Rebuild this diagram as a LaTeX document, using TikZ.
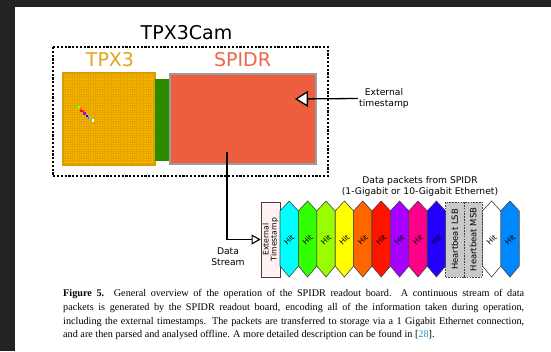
\documentclass[tikz,border=0pt]{standalone}
\usepackage{fontspec}
\setmainfont{Liberation Serif}
\setsansfont{DejaVu Sans}
\usetikzlibrary{arrows.meta}

\definecolor{pagedark}{HTML}{232323}
\definecolor{chiporange}{HTML}{F7B600}
\definecolor{chipedge}{HTML}{DB9A00}
\definecolor{chipgrid}{HTML}{E6A400}
\definecolor{tpxtext}{HTML}{E2A41C}
\definecolor{linkgreen}{HTML}{2A8A00}
\definecolor{spidrred}{HTML}{EC5E3E}
\definecolor{spidrtext}{HTML}{EE6848}
\definecolor{framegray}{HTML}{9C9C9C}
\definecolor{stampbg}{HTML}{FFF1F1}
\definecolor{beatgray}{HTML}{C9C9C9}
\definecolor{citeblue}{HTML}{2A8FC8}
\definecolor{hitcyan}{HTML}{00FFFF}
\definecolor{hitgreen}{HTML}{33FF00}
\definecolor{hitlime}{HTML}{99FF00}
\definecolor{hityellow}{HTML}{FFFF00}
\definecolor{hitorange}{HTML}{FF6600}
\definecolor{hitred}{HTML}{FF1400}
\definecolor{hitpurple}{HTML}{A800FF}
\definecolor{hitpink}{HTML}{FF0088}
\definecolor{hitblue}{HTML}{2200FF}
\definecolor{hitsky}{HTML}{0088FF}

\tikzset{
  bigtitle/.style={font=\sffamily\fontsize{19}{22}\selectfont},
  smalltext/.style={font=\sffamily\fontsize{9.2}{11}\selectfont, align=center, inner sep=1pt},
  hittext/.style={font=\sffamily\fontsize{7.6}{8}\selectfont, rotate=45, inner sep=0pt},
  packet/.style={draw=black!75, line width=0.6pt},
  stampbox/.style={draw=black!75, fill=stampbg, line width=0.8pt,
    minimum width=19pt, minimum height=75pt, inner sep=0pt},
  beatbox/.style={draw=black!75, fill=beatgray, line width=0.9pt, dash pattern=on 1.6pt off 1.2pt,
    minimum width=18.4pt, minimum height=75pt, inner sep=0pt},
  sidetext/.style={rotate=90, align=center, inner sep=0pt, font=\sffamily\fontsize{#1}{8}\selectfont},
  bigtip/.style={line width=1.3pt, -{Triangle[length=13pt,width=16pt,fill=white]}},
  smalltip/.style={line width=1.1pt, -{Triangle[length=9pt,width=10pt,fill=white]}},
}

\begin{document}
\begin{tikzpicture}[x=1pt,y=-1pt]
  \useasboundingbox (0,0) rectangle (551,351);
  \fill[white] (0,0) rectangle (551,351);
  \fill[pagedark] (0,0) rectangle (551,7);
  \fill[pagedark] (0,0) rectangle (15,351);

  % camera housing
  \node[bigtitle] (cam) at (186.5,32.5) {TPX3Cam};
  \draw[line width=1.3pt, dash pattern=on 2.2pt off 1.6pt] (53,47) rectangle (328,176);

  % chip with its pixel matrix
  \node[bigtitle, text=tpxtext] (tpxlabel) at (110,60) {TPX3};
  \node[fill=chiporange, minimum size=92pt, inner sep=0pt] (tpx) at (109,119) {};
  \foreach \k in {1,...,39} {
    \draw[chipgrid, line width=0.35pt] (63+2.3*\k,73) -- (63+2.3*\k,165);
    \draw[chipgrid, line width=0.35pt] (63,73+2.3*\k) -- (155,73+2.3*\k);
  }
  \draw[chipedge, line width=1.5pt] (tpx.north west) rectangle (tpx.south east);
  \foreach \px/\py/\col in {75/105.5/hitgreen, 77.3/105.5/hitlime, 79.6/107.8/hitorange,
      79.6/110.1/hitred, 81.9/110.1/hitred, 83.2/112.4/hitpurple, 85.5/114.7/hitblue,
      87.8/116.5/hitsky, 88.6/117/hitcyan, 91.5/119.3/white}
    \fill[\col] (\px,\py) rectangle ++(2.3,2.3);

  % link and readout board
  \node[fill=linkgreen, minimum width=14pt, minimum height=82pt, inner sep=0pt] (link) at (162,120) {};
  \node[bigtitle, text=spidrtext] (spidrlabel) at (242.5,60) {SPIDR};
  \node[fill=spidrred, draw=framegray, line width=2.5pt, minimum width=146pt, minimum height=90pt,
    inner sep=0pt] (spidr) at (243,119) {};

  \node[smalltext] (tslabel) at (384,98.5) {External\\timestamp};
  \coordinate (tsin) at (295,99);
  \draw[bigtip] (tslabel.west) -- (tsin);

  % output stream
  \coordinate (ds) at (227,152);
  \node[smalltext] (dslabel) at (228,256.5) {Data\\Stream};
  \node[smalltext] (pktlabel) at (420,186.5) {Data packets from SPIDR\\(1-Gigabit or 10-Gigabit Ethernet)};
  \node[stampbox] (stamp) at (270.5,239.5) {};
  \node[sidetext=7.8] (stamptext) at (stamp) {External\\Timestamp};
  \draw[smalltip] (ds) |- (stamp.west);

  \foreach \i/\col in {0/hitcyan, 1/hitgreen, 2/hitlime, 3/hityellow, 4/hitorange, 5/hitred,
      6/hitpurple, 7/hitpink, 8/hitblue, 11/white, 12/hitsky} {
    \pgfmathsetmacro\L{280+18.4*\i}
    \draw[packet, fill=\col] (\L,211) -- (\L+9.2,201) -- (\L+18.4,211) -- (\L+18.4,266)
      -- (\L+9.2,277) -- (\L,266) -- cycle;
    \node[hittext] (hit\i) at (\L+9.2,240) {Hit};
  }
  \node[beatbox] (lsb) at (454.8,239.5) {};
  \node[beatbox] (msb) at (473.2,239.5) {};
  \node[sidetext=8.4] (lsbtext) at (lsb) {Heartbeat LSB};
  \node[sidetext=8.4] (msbtext) at (msb) {Heartbeat MSB};

  % caption
  \node[anchor=north west, text width=461pt, align=justify, inner sep=0pt,
    font=\fontsize{10.2}{13.7}\selectfont] (caption) at (63,289.5)
    {\textbf{Figure 5.} General overview of the operation of the SPIDR readout board.\ \ A continuous stream of data\linebreak
     packets is generated by the SPIDR readout board, encoding all of the information taken during operation,\linebreak
     including the external timestamps. The packets are transferred to storage via a 1 Gigabit Ethernet connection,\linebreak
     and are then parsed and analysed offline. A more detailed description can be found in [\textcolor{citeblue}{28}].};
\end{tikzpicture}
\end{document}
